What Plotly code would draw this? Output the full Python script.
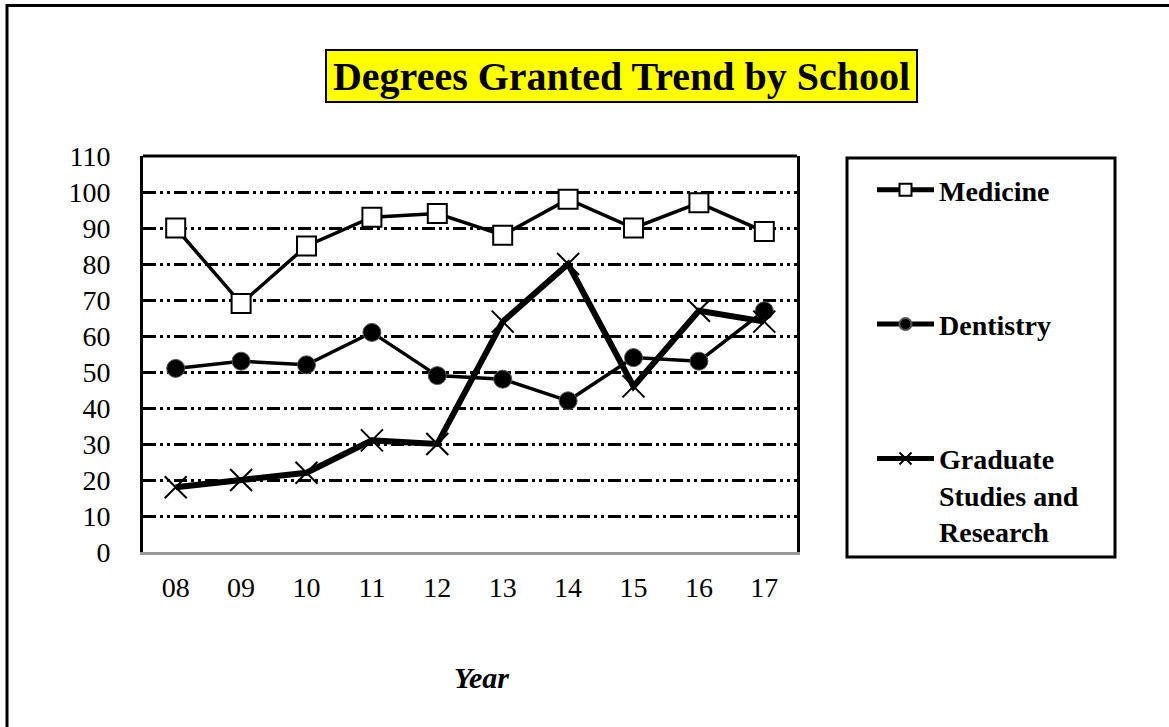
import plotly.graph_objects as go

W, H = 1169, 727

years = ["08", "09", "10", "11", "12", "13", "14", "15", "16", "17"]
medicine = [90, 69, 85, 93, 94, 88, 98, 90, 97, 89]
dentistry = [51, 53, 52, 61, 49, 48, 42, 54, 53, 67]
graduate = [18, 20, 22, 31, 30, 64, 80, 46, 67, 64]


def px(x):
    return x / W


def py(y):
    return 1 - y / H


fig = go.Figure()

fig.add_trace(go.Scatter(
    x=years, y=medicine, name="Medicine", mode="lines+markers",
    line=dict(color="black", width=3.5),
    marker=dict(symbol="square", size=19, color="white", line=dict(color="black", width=2)),
    legendgroup="a",
))
fig.add_trace(go.Scatter(
    x=years, y=dentistry, name="Dentistry", mode="lines+markers",
    line=dict(color="black", width=3.5),
    marker=dict(symbol="circle", size=18, color="black", line=dict(color="#555", width=1)),
    legendgroup="b",
))
fig.add_trace(go.Scatter(
    x=years, y=graduate, name="Graduate<br>Studies and<br>Research", mode="lines+markers",
    line=dict(color="black", width=6),
    marker=dict(symbol="x-thin", size=22, color="black", line=dict(color="black", width=2)),
    legendgroup="c",
))

serif = "Liberation Serif, Times New Roman, serif"

fig.update_layout(
    width=W, height=H,
    margin=dict(l=0, r=0, t=0, b=0, autoexpand=False),
    paper_bgcolor="white",
    plot_bgcolor="white",
    font=dict(family=serif, color="black", size=28),
    showlegend=True,
    legend=dict(
        x=px(872), y=py(165), xanchor="left", yanchor="top",
        font=dict(family=serif, size=28, color="black", weight="bold"),
        tracegroupgap=95, itemsizing="constant", itemwidth=57,
        valign="top", bgcolor="rgba(0,0,0,0)", borderwidth=0,
    ),
    xaxis=dict(
        domain=[px(143), px(797)],
        type="category", range=[-0.5, 9.5],
        showgrid=False, zeroline=False,
        showline=True, linecolor="#999999", linewidth=3,
        ticks="", ticklabelstandoff=8,
        tickfont=dict(size=28),
    ),
    yaxis=dict(
        domain=[py(552), py(156)],
        range=[0, 110], dtick=10, tick0=0,
        showgrid=True, gridcolor="black", gridwidth=3,
        griddash="13px,4px,3px,4px,3px,4px",
        zeroline=False,
        showline=True, linecolor="black", linewidth=3, mirror=True,
        ticks="", ticklabelstandoff=24,
        tickfont=dict(size=28),
    ),
    annotations=[
        dict(
            text="<b>Degrees Granted Trend by School</b>",
            xref="paper", yref="paper", x=px(621.5), y=py(76),
            xanchor="center", yanchor="middle", showarrow=False,
            font=dict(family=serif, size=40, color="black"),
            bgcolor="#ffff00", bordercolor="black", borderwidth=2,
            width=587, height=48, borderpad=1,
        ),
        dict(
            text="<b><i>Year</i></b>",
            xref="paper", yref="paper", x=px(481), y=py(677),
            xanchor="center", yanchor="middle", showarrow=False,
            font=dict(family=serif, size=30, color="black"),
        ),
    ],
    shapes=[
        # top border of the plot area
        dict(type="line", xref="x domain", yref="y domain", x0=0, x1=1, y0=1, y1=1,
             line=dict(color="black", width=3)),
        # legend box
        dict(type="rect", xref="paper", yref="paper",
             x0=px(847), x1=px(1115), y0=py(557), y1=py(158),
             line=dict(color="black", width=3)),
        # outer frame
        dict(type="rect", xref="paper", yref="paper",
             x0=px(7), x1=1.05, y0=-0.05, y1=py(5.5),
             line=dict(color="black", width=3)),
    ],
)

fig.write_html("out.html", config={"displayModeBar": False},
               post_script="document.body.style.margin = '0';")
